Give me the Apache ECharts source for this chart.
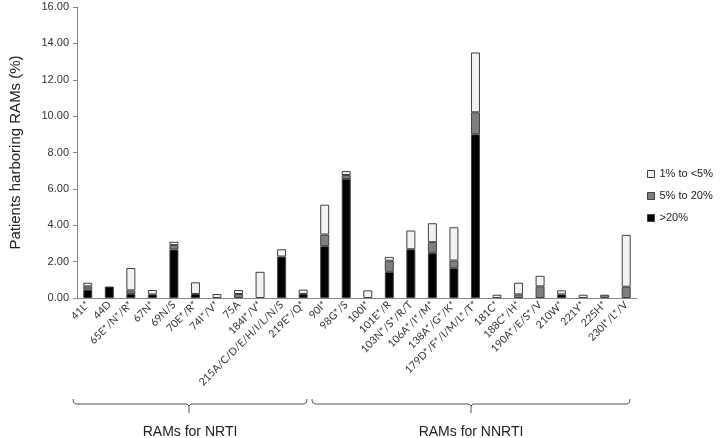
<!DOCTYPE html>
<html>
<head>
<meta charset="utf-8">
<script src="https://cdn.jsdelivr.net/npm/echarts@6/dist/echarts.min.js"></script>
<style>html,body{margin:0;padding:0;background:#fff}#c{width:723px;height:438px}</style>
</head>
<body>
<div id="c"></div>
<script>
var categories = ['41L*','44D','65E*/N*/R*','67N*','69N/S','70E*/R*','74I*/V*','75A','184I*/V*','215A/C/D/E/H/I/L/N/S','219E*/Q*',
  '90I*','98G*/S','100I*','101E*/R','103N*/S*/R/T','106A*/I*/M*','138A*/G*/K*','179D*/F*/I/M/L*/T*','181C*','188C*/H*','190A*/E/S*/V','210W*','221Y*','225H*','230I*/L*/V'];
var above20 = [0.46,0.63,0.22,0.20,2.67,0.22,null,null,null,2.28,0.22,
  2.85,6.54,null,1.44,2.68,2.48,1.64,9.00,null,null,null,0.20,null,null,null];
var from5to20 = [0.18,null,0.20,null,0.24,null,null,0.22,null,null,null,
  0.64,0.22,null,0.61,null,0.59,0.42,1.21,null,0.20,0.64,null,null,0.18,0.62];
var from1to5 = [0.20,null,1.23,0.24,0.18,0.64,0.22,0.22,1.44,0.40,0.24,
  1.64,0.22,0.42,0.21,1.03,1.04,1.83,3.29,0.18,0.64,0.58,0.22,0.18,null,2.85];
var yTicks = [0,2,4,6,8,10,12,14,16];
var groupLabels = ['RAMs for NRTI','RAMs for NNRTI'];

var chart = echarts.init(document.getElementById('c'));
var barBase = {type:'bar', stack:'s', barWidth:9};
chart.setOption({
  animation:false,
  grid:{left:72, right:86, top:7, bottom:140, containLabel:false},
  legend:{
    orient:'vertical', left:642, top:163, itemWidth:7, itemHeight:7, itemGap:10, icon:'rect',
    data:['1% to <5%','5% to 20%','>20%'],
    textStyle:{fontFamily:'Liberation Sans', fontSize:11, color:'#222', lineHeight:12},
    itemStyle:{borderColor:'#404040', borderWidth:1}
  },
  xAxis:{
    type:'category', data:categories,
    axisLine:{lineStyle:{color:'#888', width:1}},
    axisTick:{show:false},
    axisLabel:{rotate:45, interval:0, margin:5, fontFamily:'Lato', fontSize:10.5, color:'#333'}
  },
  yAxis:{
    type:'value', min:yTicks[0], max:yTicks[yTicks.length-1], interval:2,
    name:'Patients harboring RAMs (%)', nameLocation:'middle', nameGap:54,
    nameTextStyle:{fontFamily:'Liberation Sans', fontSize:15, color:'#222'},
    axisLine:{show:true, lineStyle:{color:'#888'}},
    axisTick:{show:true, length:4, lineStyle:{color:'#888'}},
    splitLine:{show:false},
    axisLabel:{formatter:function(v){return v.toFixed(2);}, fontFamily:'Liberation Sans', fontSize:11, color:'#333', margin:8}
  },
  series:[
    Object.assign({}, barBase, {name:'>20%', data:above20, itemStyle:{color:'#000', borderColor:'#404040', borderWidth:1}}),
    Object.assign({}, barBase, {name:'5% to 20%', data:from5to20, itemStyle:{color:'#7f7f7f', borderColor:'#404040', borderWidth:1}}),
    Object.assign({}, barBase, {name:'1% to <5%', data:from1to5, itemStyle:{color:'#f2f2f2', borderColor:'#404040', borderWidth:1}})
  ],
  graphic:[
    {type:'polyline', shape:{points:[[73,399],[73.5,402.5],[76,404],[187,404],[189,406],[189,413]]}, style:{stroke:'#555', lineWidth:1, fill:null}},
    {type:'polyline', shape:{points:[[189,406],[191,404],[304,404],[306.5,402.5],[307,399]]}, style:{stroke:'#555', lineWidth:1, fill:null}},
    {type:'polyline', shape:{points:[[312,399],[312.5,402.5],[315,404],[469,404],[471,406],[471,413]]}, style:{stroke:'#555', lineWidth:1, fill:null}},
    {type:'polyline', shape:{points:[[471,406],[473,404],[627,404],[629.5,402.5],[630,399]]}, style:{stroke:'#555', lineWidth:1, fill:null}},
    {type:'text', x:190, y:432, style:{text:groupLabels[0], fontFamily:'Liberation Sans', fontSize:14, fill:'#222', textAlign:'center', textVerticalAlign:'middle'}},
    {type:'text', x:471, y:432, style:{text:groupLabels[1], fontFamily:'Liberation Sans', fontSize:14, fill:'#222', textAlign:'center', textVerticalAlign:'middle'}}
  ]
});
</script>
</body>
</html>
